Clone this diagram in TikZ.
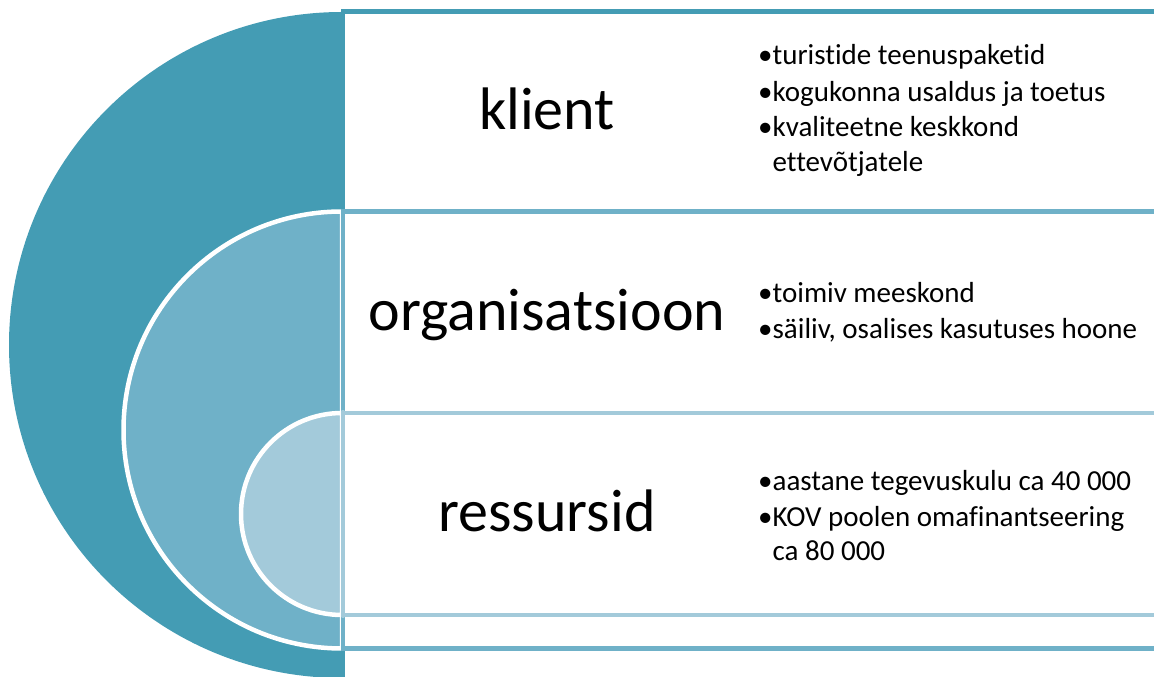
\documentclass[tikz,border=0pt]{standalone}
\usepackage{fontspec}
\setmainfont{Carlito}[RawFeature={-liga;-dlig}]
\definecolor{cdark}{RGB}{68,156,180}
\definecolor{cmid}{RGB}{111,177,200}
\definecolor{clight}{RGB}{163,202,218}
\begin{document}
\begin{tikzpicture}[x=1pt,y=1pt,
  biglabel/.style={font=\fontsize{60}{72}\selectfont, anchor=base, inner sep=0},
  item/.style={font=\fontsize{29}{35}\selectfont, anchor=base west, inner sep=0},
  box/.style={line width=4.5pt, fill=white},
  half/.style={draw=white, line width=4.5pt}]
\useasboundingbox (0,0) rectangle (1154,677);
\clip (0,0) rectangle (1154,677);
% outer level
\fill[cdark] (342,665) arc[start angle=90,end angle=270,radius=333] -- cycle;
\draw[box, draw=cdark] (343,665.5) rectangle (1170,-20);
% middle level
\draw[half, fill=cmid] (342,465.5) arc[start angle=90,end angle=270,radius=218.5] -- cycle;
\draw[box, draw=cmid] (343,465.5) rectangle (1170,28.5);
% inner level
\draw[half, fill=clight] (342,264) arc[start angle=90,end angle=270,radius=101] -- cycle;
\draw[box, draw=clight] (343,264) rectangle (1170,62);
% labels
\node[biglabel] (klient) at (547,547) {klient};
\node[biglabel] (org) at (547,346) {organisatsioon};
\node[biglabel] (res) at (547,145) {ressursid};
% row 1 items
\node[item] (a1) at (758,612) {•turistide teenuspaketid};
\node[item] (a2) at (758,575.3) {•kogukonna usaldus ja toetus};
\node[item] (a3) at (758,540) {•kvaliteetne keskkond};
\node[item] (a4) at (758,505.3) {\phantom{•}ettevõtjatele};
% row 2 items
\node[item] (b1) at (758,374) {•toimiv meeskond};
\node[item] (b2) at (758,338) {•säiliv, osalises kasutuses hoone};
% row 3 items
\node[item] (c1) at (758,186.3) {•aastane tegevuskulu ca 40 000};
\node[item] (c2) at (758,150.3) {•KOV poolen omafinantseering};
\node[item] (c3) at (758,116.3) {\phantom{•}ca 80 000};
\end{tikzpicture}
\end{document}
